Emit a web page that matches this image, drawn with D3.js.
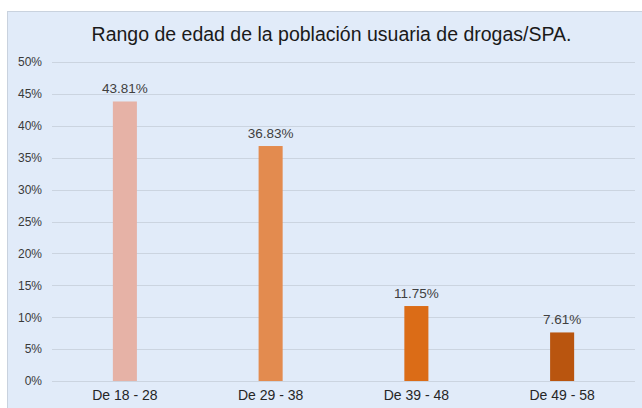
<!DOCTYPE html>
<html>
<head>
<meta charset="utf-8">
<script src="https://cdn.jsdelivr.net/npm/d3@7"></script>
<style>
  body { margin: 0; background: #ffffff; }
  text { font-family: "Liberation Sans", Arial, sans-serif; }
</style>
</head>
<body>
<div id="chart"></div>
<script>
const categories = ["De 18 - 28", "De 29 - 38", "De 39 - 48", "De 49 - 58"];
const values = [43.81, 36.83, 11.75, 7.61];
const barColors = ["#e6b2a6", "#e38b4f", "#db6c17", "#b9550f"];
const yTicks = [0, 5, 10, 15, 20, 25, 30, 35, 40, 45, 50];
const title = "Rango de edad de la población usuaria de drogas/SPA.";

const W = 642, H = 408;
const margin = { top: 62, right: 7, bottom: 27, left: 52 },
      width = W - margin.left - margin.right,
      height = H - margin.top - margin.bottom;

const svg = d3.select("#chart")
    .append("svg")
    .attr("width", W)
    .attr("height", H);

// chart area background + frame
svg.append("rect")
    .attr("x", 7.5)
    .attr("y", 11.5)
    .attr("width", W)
    .attr("height", H)
    .attr("fill", "#e1ebf9")
    .attr("stroke", "#c9d2de")
    .attr("stroke-width", 1);

svg.append("text")
    .attr("x", 331.5)
    .attr("y", 41)
    .attr("text-anchor", "middle")
    .attr("fill", "#1a1a1a")
    .style("font-size", "19.5px")
    .text(title);

const g = svg.append("g")
    .attr("transform", `translate(${margin.left},${margin.top})`);

const x = d3.scaleBand()
    .domain(categories)
    .range([0, width])
    .paddingInner(0.835)
    .paddingOuter(0.4175);

const y = d3.scaleLinear()
    .domain([0, 50])
    .range([height, 0]);

// gridlines
g.append("g")
    .selectAll("line")
    .data(yTicks)
    .enter()
    .append("line")
    .attr("x1", 0)
    .attr("x2", width)
    .attr("y1", d => Math.round(y(d)) + 0.5)
    .attr("y2", d => Math.round(y(d)) + 0.5)
    .attr("stroke", "#cbd4e0")
    .attr("stroke-width", 1.2);

// y axis labels
const yAxis = g.append("g")
    .call(d3.axisLeft(y).tickValues(yTicks).tickFormat(d => d + "%").tickSize(0).tickPadding(10));
yAxis.select(".domain").remove();
yAxis.selectAll("text")
    .attr("fill", "#3a3a3a")
    .style("font-size", "12px")
    .style("font-family", "'Liberation Sans', Arial, sans-serif");

// x axis labels
const xAxis = g.append("g")
    .attr("transform", `translate(0,${height})`)
    .call(d3.axisBottom(x).tickSize(0).tickPadding(9));
xAxis.select(".domain").remove();
xAxis.selectAll("text")
    .attr("fill", "#262626")
    .style("font-size", "14px")
    .style("font-family", "'Liberation Sans', Arial, sans-serif");

// bars
g.selectAll(".bar")
    .data(values)
    .enter()
    .append("rect")
    .attr("class", "bar")
    .attr("x", (d, i) => x(categories[i]))
    .attr("y", d => y(d))
    .attr("width", x.bandwidth())
    .attr("height", d => height - y(d))
    .attr("fill", (d, i) => barColors[i]);

// value labels
g.selectAll(".val")
    .data(values)
    .enter()
    .append("text")
    .attr("class", "val")
    .attr("x", (d, i) => x(categories[i]) + x.bandwidth() / 2)
    .attr("y", d => y(d) - 8)
    .attr("text-anchor", "middle")
    .attr("fill", "#404040")
    .style("font-size", "13.5px")
    .text(d => d.toFixed(2) + "%");
</script>
</body>
</html>
